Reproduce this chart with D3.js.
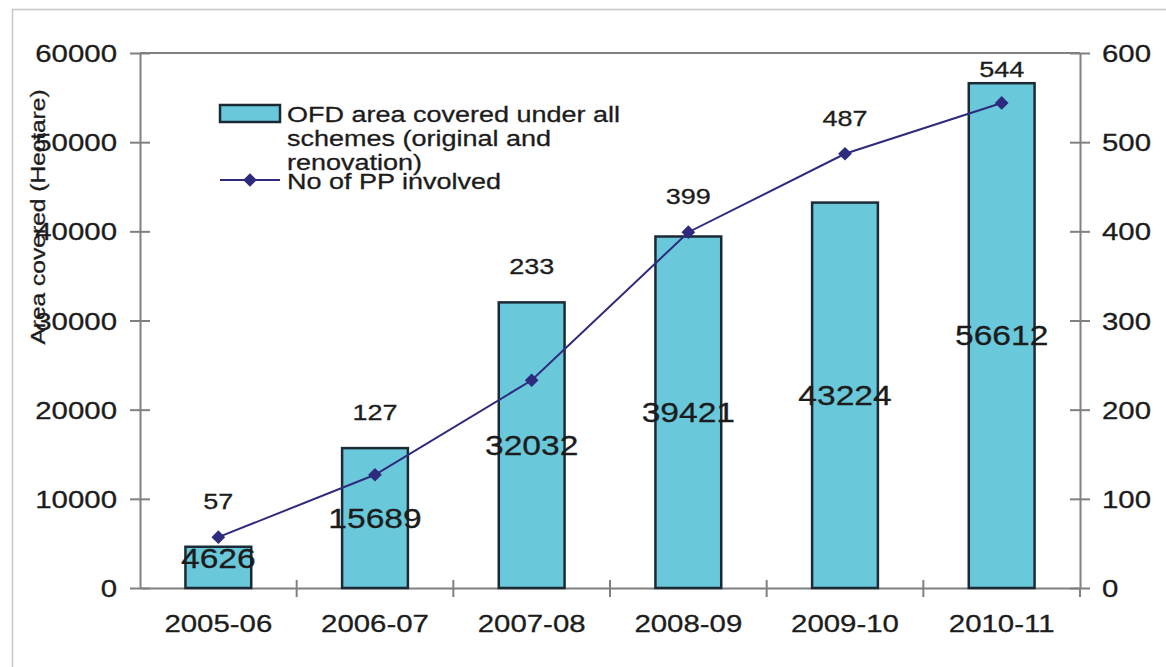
<!DOCTYPE html>
<html lang="en">
<head>
  <meta charset="UTF-8">
  <title>OFD area covered and PP involved</title>
  <script src="https://d3js.org/d3.v7.min.js"></script>
  <style>
    body {
      margin: 0;
      background: #ffffff;
      font-family: "Liberation Sans", Arial, sans-serif;
    }
    svg { display: block; }
    text { fill: #1c1c1c; stroke: #1c1c1c; stroke-width: 0.3px; }
    .frame { stroke: #c8c8c8; stroke-width: 1.5px; fill: none; }
    .axis path, .axis line { stroke: #808080; stroke-width: 2px; }
    .bar { fill: #69c8da; stroke: #1c2a36; stroke-width: 2.5px; }
    .pp-line { fill: none; stroke: #2e2b7e; stroke-width: 2px; }
    .pp-dot { fill: #2e2b7e; }
  </style>
</head>
<body>
<script>
  // data
  const years = ['2005-06', '2006-07', '2007-08', '2008-09', '2009-10', '2010-11'];
  const areaCovered = [4626, 15689, 32032, 39421, 43224, 56612];
  const ppInvolved = [57, 127, 233, 399, 487, 544];
  const leftTicks = [0, 10000, 20000, 30000, 40000, 50000, 60000];
  const rightTicks = [0, 100, 200, 300, 400, 500, 600];
  const legendBarText = ['OFD area covered under all', 'schemes (original and', 'renovation)'];
  const legendLineText = 'No of PP involved';

  const width = 1166,
        height = 667,
        plotLeft = 140, plotRight = 1080, plotTop = 53, plotBottom = 588,
        SX = 1.2; // source text looks stretched sideways

  const svg = d3.select('body').append('svg')
    .attr('width', width)
    .attr('height', height);

  // outer frame (left + top edges only visible)
  svg.append('path')
    .attr('class', 'frame')
    .attr('d', `M12.5,${height} V9.5 H${width}`);

  const x = d3.scaleBand().domain(years).range([plotLeft, plotRight]).padding(0);
  const yL = d3.scaleLinear().domain([0, 60000]).range([plotBottom, plotTop]);
  const yR = d3.scaleLinear().domain([0, 600]).range([plotBottom, plotTop]);
  const barW = x.bandwidth() * 0.42;

  function stretched(sel, tx, ty) {
    return sel.attr('transform', (d, i) => `translate(${tx(d, i)},${ty(d, i)}) scale(${SX},1)`);
  }

  // plot frame top line
  svg.append('line')
    .attr('x1', plotLeft).attr('x2', plotRight)
    .attr('y1', plotTop).attr('y2', plotTop)
    .attr('stroke', '#808080').attr('stroke-width', 2);

  // left axis
  const gL = svg.append('g')
    .attr('class', 'axis')
    .attr('transform', `translate(${plotLeft},0)`)
    .call(d3.axisLeft(yL).tickValues(leftTicks).tickSizeInner(10).tickSizeOuter(0).tickFormat(d3.format('d')));
  gL.selectAll('.tick line').attr('x1', 10);
  gL.selectAll('.tick text')
    .attr('x', 0).attr('dy', '0.35em')
    .attr('transform', `translate(-23,0) scale(${SX},1)`)
    .style('font-size', '24.5px')
    .style('font-family', '"Liberation Sans", Arial, sans-serif')
    .attr('fill', '#1c1c1c');

  // right axis
  const gR = svg.append('g')
    .attr('class', 'axis')
    .attr('transform', `translate(${plotRight},0)`)
    .call(d3.axisRight(yR).tickValues(rightTicks).tickSizeInner(10).tickSizeOuter(0));
  gR.selectAll('.tick line').attr('x1', -10);
  gR.selectAll('.tick text')
    .attr('x', 0).attr('dy', '0.35em')
    .attr('transform', `translate(22,0) scale(${SX},1)`)
    .style('font-size', '24.5px')
    .style('font-family', '"Liberation Sans", Arial, sans-serif')
    .attr('fill', '#1c1c1c');

  // bottom axis with ticks on category boundaries
  const gB = svg.append('g')
    .attr('class', 'axis')
    .attr('transform', `translate(0,${plotBottom})`)
    .call(d3.axisBottom(x).tickSize(0).tickSizeOuter(0));
  gB.selectAll('.tick text')
    .attr('y', 0).attr('dy', '0.35em')
    .attr('transform', `translate(0,35) scale(${SX},1)`)
    .style('font-size', '24.5px')
    .style('font-family', '"Liberation Sans", Arial, sans-serif')
    .attr('fill', '#1c1c1c');
  gB.selectAll('.sep')
    .data(years.slice(1))
    .enter().append('line')
    .attr('class', 'sep')
    .attr('x1', d => x(d)).attr('x2', d => x(d))
    .attr('y1', -8).attr('y2', 9);
  gB.append('line')
    .attr('x1', plotRight).attr('x2', plotRight).attr('y1', 0).attr('y2', 9);

  // y axis title
  svg.append('text')
    .attr('transform', `translate(45,217) rotate(-90) scale(1.17,1)`)
    .attr('text-anchor', 'middle')
    .style('font-size', '21px')
    .text('Area covered (Hectare)');

  // bars
  const barData = years.map((d, i) => ({ year: d, area: areaCovered[i], pp: ppInvolved[i] }));
  svg.append('g').selectAll('rect')
    .data(barData)
    .enter().append('rect')
    .attr('class', 'bar')
    .attr('x', d => x(d.year) + (x.bandwidth() - barW) / 2)
    .attr('width', barW)
    .attr('y', d => yL(d.area))
    .attr('height', d => plotBottom - yL(d.area));

  // line series
  const cx = d => x(d.year) + x.bandwidth() / 2;
  const line = d3.line().x(cx).y(d => yR(d.pp));
  svg.append('path')
    .datum(barData)
    .attr('class', 'pp-line')
    .attr('d', line);
  svg.append('g').selectAll('path')
    .data(barData)
    .enter().append('path')
    .attr('class', 'pp-dot')
    .attr('d', d3.symbol().type(d3.symbolDiamond2).size(120))
    .attr('transform', d => `translate(${cx(d)},${yR(d.pp)})`);

  // bar value labels (centre of bar)
  stretched(svg.append('g').selectAll('text')
    .data(barData)
    .enter().append('text')
    .attr('text-anchor', 'middle')
    .attr('dy', '0.35em')
    .style('font-size', '28px')
    .text(d => d.area),
    cx, d => Math.min((yL(d.area) + plotBottom) / 2, plotBottom - 30));

  // line value labels (above bar top or point, kept inside plot)
  stretched(svg.append('g').selectAll('text')
    .data(barData)
    .enter().append('text')
    .attr('text-anchor', 'middle')
    .attr('dy', '0.35em')
    .style('font-size', '22.5px')
    .text(d => d.pp),
    cx, d => Math.max(Math.min(yL(d.area), yR(d.pp)) - 36, plotTop + 16));

  // legend
  const lg = svg.append('g').attr('transform', 'translate(220,105)');
  lg.append('rect')
    .attr('class', 'bar')
    .attr('width', 60).attr('height', 17);
  legendBarText.forEach((t, i) => {
    lg.append('text')
      .attr('transform', `translate(67,${17 + i * 24}) scale(${SX},1)`)
      .style('font-size', '22.5px')
      .text(t);
  });
  lg.append('line')
    .attr('class', 'pp-line')
    .attr('x1', 0).attr('x2', 60).attr('y1', 75).attr('y2', 75);
  lg.append('path')
    .attr('class', 'pp-dot')
    .attr('d', d3.symbol().type(d3.symbolDiamond2).size(120))
    .attr('transform', 'translate(30,75)');
  lg.append('text')
    .attr('transform', `translate(67,84) scale(${SX},1)`)
    .style('font-size', '22.5px')
    .text(legendLineText);
</script>
</body>
</html>
